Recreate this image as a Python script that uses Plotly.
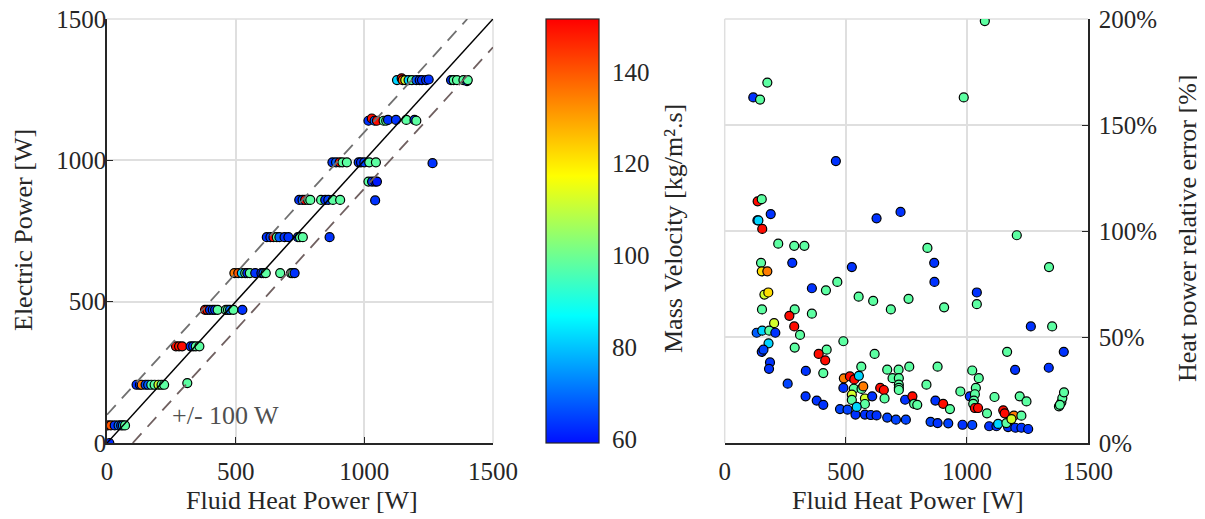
import plotly.graph_objects as go

# ---------------- data ----------------
# Left panel: fluid heat power [W], electric power [W], mass velocity [kg/m2.s]
left_heat = [9,
             3, 15, 30, 45, 55, 62, 70,
             115, 128, 135, 150, 160, 172, 185, 200, 212, 222, 312,
             268, 280, 292, 325, 335, 345, 359,
             381, 390, 400, 411, 420, 430, 462, 470, 478, 491, 526,
             495, 510, 524, 537, 545, 555, 576, 600, 608, 617, 673, 715, 721, 729,
             621, 635, 647, 660, 670, 690, 705, 742, 750, 761, 865,
             747, 760, 770, 782, 790, 832, 848, 860, 878, 906, 1042,
             876, 890, 904, 915, 932, 978, 987, 1000, 1019, 1045, 1265,
             1016, 1030, 1042, 1049,
             1016, 1029, 1040, 1049, 1075, 1085, 1092, 1123, 1163, 1195, 1202,
             1127, 1145, 1149, 1159, 1172, 1185, 1202, 1215, 1224, 1240, 1250,
             1337, 1347, 1360, 1385, 1399, 1402]
left_elec = [0,
             62, 62, 62, 62, 62, 62, 62,
             206, 206, 206, 206, 206, 206, 206, 206, 206, 206, 212,
             342, 342, 342, 342, 342, 342, 342,
             471, 471, 471, 471, 471, 471, 471, 471, 471, 471, 471,
             601, 601, 601, 601, 601, 601, 601, 601, 601, 601, 601, 601, 601, 601,
             728, 728, 728, 728, 728, 728, 728, 728, 728, 728, 728,
             860, 860, 860, 860, 860, 860, 860, 860, 860, 860, 858,
             993, 993, 993, 993, 993, 993, 993, 993, 993, 993, 990,
             925, 925, 925, 925,
             1140, 1148, 1140, 1140, 1140, 1140, 1143, 1143, 1143, 1143, 1140,
             1284, 1290, 1284, 1284, 1284, 1284, 1284, 1284, 1284, 1284, 1286,
             1284, 1284, 1284, 1284, 1280, 1284]
left_G = [62,
          150, 140, 63, 70, 65, 75, 98,
          63, 63, 135, 65, 68, 95, 98, 112, 98, 98, 98,
          150, 148, 150, 63, 65, 98, 98,
          150, 148, 63, 65, 63, 98, 98, 98, 70, 98, 63,
          135, 140, 82, 98, 63, 98, 63, 63, 70, 98, 98, 98, 98, 63,
          63, 65, 150, 98, 68, 63, 63, 63, 98, 98, 63,
          63, 68, 150, 98, 98, 98, 63, 65, 98, 98, 63,
          63, 68, 150, 98, 98, 63, 63, 65, 98, 98, 63,
          98, 63, 60, 60,
          63, 150, 68, 150, 98, 98, 63, 63, 98, 63, 98,
          82, 150, 140, 112, 82, 98, 68, 63, 63, 63, 63,
          63, 98, 98, 98, 63, 98]

# Right panel: fluid heat power [W], heat power relative error [%], mass velocity
right_heat = [118, 146, 176, 1074, 987, 459, 136, 153, 190, 135, 139, 155, 627, 726,
              221, 287, 329, 1206, 837, 150, 279, 865, 1339, 153, 176, 525, 465, 866,
              360, 418, 164, 180, 553, 613, 759, 1041, 1041, 906, 686, 154, 289, 267,
              360, 204, 287, 1264, 1352, 132, 155, 184, 209, 311, 490, 181, 153, 160,
              289, 421, 388, 415, 619, 1400, 1166, 187, 183, 335, 407, 564, 762, 879,
              1338, 1199, 260, 334, 380, 407, 476, 507, 540, 579, 603, 627, 671, 707,
              748, 850, 879, 923, 982, 1022, 1092, 1122, 1129, 1170, 1200, 1225, 1253,
              1163,
              492, 517, 535, 554, 490, 533, 565, 572, 525, 525, 579, 579, 545, 609, 642,
              657, 660, 671, 693, 718, 719, 719, 719, 719, 745, 775, 782, 795, 833, 870,
              902, 930, 973, 1012, 1022, 1049, 1037, 1033, 1029, 1026, 1033, 1046, 1083,
              1114, 1150, 1156, 1194, 1225, 1184, 1218, 1246, 1380, 1390, 1394, 1401,
              1384]
right_err = [163, 162, 170, 199, 163, 133, 114, 115, 108, 105, 105, 101, 106, 109,
             94, 93, 93, 98, 92, 85, 85, 85, 83, 81, 81, 83, 76, 76,
             73, 72, 70, 71, 69, 67, 68, 71, 65.5, 64, 63, 63, 63, 60,
             61, 56.5, 55, 55, 55, 52, 53, 53, 52, 51, 48, 47, 43, 44,
             45, 44, 42, 39, 42, 43, 43, 38, 35, 34, 33, 36, 36, 36,
             35.5, 34.5, 28, 22, 20, 18, 16, 15.7, 13.4, 13.4, 13.2, 13, 12, 11,
             11, 10, 9.4, 9.3, 8.6, 8.5, 7.9, 7.9, 9, 7.5, 7.2, 7.2, 6.6,
             9.4,
             30.5, 31.4, 30, 31.7, 26, 25.6, 25.5, 26.7, 22.8, 20.3, 21, 18.4, 17, 22, 26,
             25, 21, 34.6, 30.6, 34.6, 30.6, 27.5, 26, 25, 20.4, 22, 18.5, 18, 27.5, 20,
             18.5, 16, 24.3, 22, 34.2, 30.6, 26, 23, 20, 18.5, 16.5, 16.5, 14,
             21.7, 15.4, 14, 12.9, 12.9, 11.3, 22, 19.6, 17.3, 19.2, 21.2, 23.9,
             18]
right_G = [63, 98, 98, 98, 98, 63, 150, 98, 63, 63, 82, 150, 63, 63,
           98, 98, 98, 98, 98, 98, 63, 63, 98, 122, 135, 63, 98, 63,
           63, 98, 112, 122, 98, 98, 98, 63, 98, 98, 98, 98, 98, 150,
           98, 112, 150, 63, 98, 68, 82, 98, 63, 98, 98, 82, 63, 65,
           98, 98, 150, 150, 98, 63, 98, 63, 63, 63, 98, 98, 98, 98,
           63, 63, 65, 63, 63, 63, 65, 65, 63, 63, 63, 63, 65, 65,
           65, 65, 63, 65, 63, 65, 63, 63, 82, 63, 63, 63, 63,
           98,
           135, 150, 150, 82, 63, 98, 98, 135, 112, 98, 112, 98, 82, 63, 150,
           150, 98, 98, 98, 98, 98, 98, 98, 98, 63, 150, 98, 98, 98, 63,
           150, 98, 98, 63, 98, 98, 98, 98, 98, 98, 150, 150, 98,
           98, 150, 150, 135, 98, 112, 98, 98, 98, 98, 98, 98,
           98]

axis_max = 1500
band = 100
x_ticks = [0, 500, 1000, 1500]
left_y_ticks = [0, 500, 1000, 1500]
right_y_ticks = [0, 50, 100, 150, 200]
right_y_labels = ["0%", "50%", "100%", "150%", "200%"]
cbar_ticks = [60, 80, 100, 120, 140]

# ---------------- style ----------------
FONT = "Liberation Serif"
TXT = "#262626"
GRID = "rgb(223,223,223)"
W, H = 1205, 519
OX, OY = 8, 8  # page body margin offset


def fx(px):
    return (px - OX) / W


def fy(py):
    return (H - (py - OY)) / H


colorscale = [[0.0, "rgb(0,16,255)"], [0.3, "rgb(0,255,255)"],
              [0.63, "rgb(255,255,0)"], [1.0, "rgb(255,0,0)"]]

marker_common = dict(size=9, line=dict(color="black", width=1.2),
                     coloraxis="coloraxis")

fig = go.Figure()

fig.add_trace(go.Scatter(x=left_heat, y=left_elec, mode="markers",
                         marker=dict(color=left_G, **marker_common),
                         xaxis="x", yaxis="y", showlegend=False))

# reference lines y = x and y = x +/- band
fig.add_trace(go.Scatter(x=[0, axis_max - band], y=[band, axis_max], mode="lines",
                         line=dict(color="rgb(112,112,112)", width=1.8, dash="13px,9px"),
                         xaxis="x", yaxis="y", showlegend=False, hoverinfo="skip"))
fig.add_trace(go.Scatter(x=[band, axis_max], y=[0, axis_max - band], mode="lines",
                         line=dict(color="rgb(112,96,96)", width=1.8, dash="13px,9px"),
                         xaxis="x", yaxis="y", showlegend=False, hoverinfo="skip"))
fig.add_trace(go.Scatter(x=[0, axis_max], y=[0, axis_max], mode="lines",
                         line=dict(color="black", width=1.5),
                         xaxis="x", yaxis="y", showlegend=False, hoverinfo="skip"))

fig.add_trace(go.Scatter(x=right_heat, y=right_err, mode="markers",
                         marker=dict(color=right_G, **marker_common),
                         xaxis="x2", yaxis="y2", showlegend=False))

tickfont = dict(family=FONT, size=25, color=TXT)

ax_common = dict(showgrid=True, gridcolor=GRID, gridwidth=1.5, zeroline=False,
                 showline=True, linecolor=TXT, linewidth=1.5,
                 ticks="inside", ticklen=6, tickcolor=TXT, tickwidth=1.2,
                 tickfont=tickfont, automargin=False, ticklabeloverflow="allow")

L0, L1 = fx(107), fx(493)
R0, R1 = fx(724.7), fx(1088)
Y0, Y1 = fy(443), fy(19)

fig.update_layout(
    width=W, height=H, autosize=False,
    margin=dict(l=0, r=0, t=0, b=0, pad=0, autoexpand=False),
    paper_bgcolor="white", plot_bgcolor="white",
    font=dict(family=FONT, color=TXT),
    xaxis=dict(domain=[L0, L1], range=[0, axis_max], tickvals=x_ticks,
               anchor="y", ticklabelstandoff=5, **ax_common),
    yaxis=dict(domain=[Y0, Y1], range=[0, axis_max], tickvals=left_y_ticks,
               anchor="x", ticklabelstandoff=-6, **ax_common),
    xaxis2=dict(domain=[R0, R1], range=[0, axis_max], tickvals=x_ticks,
                anchor="y2", ticklabelstandoff=5, **ax_common),
    yaxis2=dict(domain=[Y0, Y1], range=[0, 200], tickvals=right_y_ticks,
                ticktext=right_y_labels, side="right",
                anchor="x2", ticklabelstandoff=4, **ax_common),
    coloraxis=dict(
        colorscale=colorscale, cmin=59.1, cmax=151.5,
        colorbar=dict(
            x=fx(546), xanchor="left", xpad=0, ypad=0,
            y=Y1, yanchor="top", lenmode="pixels", len=424,
            thickness=53, outlinecolor=TXT, outlinewidth=1.2,
            tickvals=cbar_ticks, ticks="outside", ticklen=8,
            tickcolor="rgba(0,0,0,0)", tickfont=tickfont,
        ),
    ),
)

# light gray edges of boxes (top / right for left panel, top / left for right panel)
for xr, yr, x0, x1, y0, y1 in [("x domain", "y domain", 0, 1, 1, 1),
                               ("x domain", "y domain", 1, 1, 0, 1),
                               ("x2 domain", "y2 domain", 0, 1, 1, 1),
                               ("x2 domain", "y2 domain", 0, 0, 0, 1)]:
    fig.add_shape(type="line", xref=xr, yref=yr, x0=x0, x1=x1, y0=y0, y1=y1,
                  line=dict(color=GRID, width=1.5), layer="below")

title_font = dict(family=FONT, size=26, color=TXT)
annos = [
    dict(text="Fluid Heat Power [W]", x=fx(302), y=fy(500), textangle=0),
    dict(text="Electric Power [W]", x=fx(23), y=fy(230), textangle=-90),
    dict(text="Fluid Heat Power [W]", x=fx(908), y=fy(500), textangle=0),
    dict(text="Heat power relative error [%]", x=fx(1187), y=fy(228), textangle=-90),
    dict(text="Mass Velocity [kg/m².s]", x=fx(673), y=fy(229), textangle=-90),
]
for a in annos:
    fig.add_annotation(xref="paper", yref="paper", xanchor="center", yanchor="middle",
                       showarrow=False, font=title_font, **a)

fig.add_annotation(text="+/- 100 W", xref="x", yref="y", x=462, y=99,
                   showarrow=False, xanchor="center", yanchor="middle",
                   font=dict(family=FONT, size=26, color="rgb(80,80,80)"))

fig.write_html("out.html")
